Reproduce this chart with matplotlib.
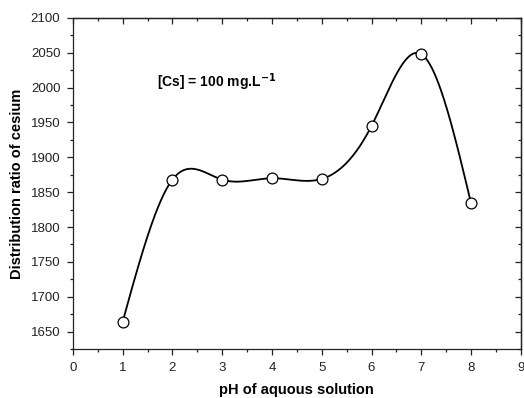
import numpy as np
import matplotlib
matplotlib.use('Agg')
import matplotlib.pyplot as plt
from matplotlib.ticker import MultipleLocator

ph = [1, 2, 3, 4, 5, 6, 7, 8]
ratio = [1664, 1868, 1868, 1870, 1869, 1945, 2048, 1834]


def natural_spline(x, y, n=400):
    # plain natural cubic spline, only for drawing the smooth line
    x = np.asarray(x, float)
    y = np.asarray(y, float)
    k = len(x)
    h = np.diff(x)
    A = np.zeros((k, k))
    b = np.zeros(k)
    A[0, 0] = A[-1, -1] = 1
    for i in range(1, k - 1):
        A[i, i - 1] = h[i - 1]
        A[i, i] = 2 * (h[i - 1] + h[i])
        A[i, i + 1] = h[i]
        b[i] = 3 * ((y[i + 1] - y[i]) / h[i] - (y[i] - y[i - 1]) / h[i - 1])
    c = np.linalg.solve(A, b)
    xs = np.linspace(x[0], x[-1], n)
    idx = np.clip(np.searchsorted(x, xs) - 1, 0, k - 2)
    dx = xs - x[idx]
    hh = h[idx]
    bb = (y[idx + 1] - y[idx]) / hh - hh * (2 * c[idx] + c[idx + 1]) / 3
    dd = (c[idx + 1] - c[idx]) / (3 * hh)
    ys = y[idx] + bb * dx + c[idx] * dx ** 2 + dd * dx ** 3
    return xs, ys


plt.rcParams['font.family'] = ['Liberation Sans', 'DejaVu Sans']

fig = plt.figure(figsize=(5.24, 3.98), dpi=100)
ax = fig.add_axes([0.139, 0.123, 0.855, 0.832])

xs, ys = natural_spline(ph, ratio)
ax.plot(xs, ys, color='black', lw=1.3, zorder=2)
ax.plot(ph, ratio, 'o', ms=7.8, mfc='white', mec='black', mew=0.9, zorder=3)

ax.set_xlim(0, 9)
ax.set_ylim(1625, 2100)
ax.xaxis.set_major_locator(MultipleLocator(1))
ax.xaxis.set_minor_locator(MultipleLocator(0.5))
ax.yaxis.set_major_locator(MultipleLocator(50))
ax.yaxis.set_minor_locator(MultipleLocator(25))
ax.tick_params(which='both', direction='out', labelsize=9.5, width=0.9, color='#222222',
               labelcolor='#222222')
ax.tick_params(which='major', length=4, pad=5)
ax.tick_params(which='minor', length=2.5)

for sp in ax.spines.values():
    sp.set_linewidth(0.9)
    sp.set_color('#222222')

top = ax.secondary_xaxis('top')
top.xaxis.set_major_locator(MultipleLocator(1))
top.xaxis.set_minor_locator(MultipleLocator(0.5))
top.tick_params(which='both', direction='in', labeltop=False, width=0.9, color='#222222')
top.tick_params(which='major', length=4)
top.tick_params(which='minor', length=2.5)
top.spines['top'].set_linewidth(0.9)

right = ax.secondary_yaxis('right')
right.yaxis.set_major_locator(MultipleLocator(50))
right.yaxis.set_minor_locator(MultipleLocator(25))
right.tick_params(which='both', direction='in', labelright=False, width=0.9, color='#222222')
right.tick_params(which='major', length=4)
right.tick_params(which='minor', length=2.5)
right.spines['right'].set_linewidth(0.9)

ax.set_xlabel('pH of aquous solution', fontsize=10.5, fontweight='bold', labelpad=6.5)
ax.set_ylabel('Distribution ratio of cesium', fontsize=10.5, fontweight='bold', labelpad=5)

ax.text(1.7, 2008, r'[Cs] = 100 mg.L$^{\mathbf{-1}}$', fontsize=10, fontweight='bold', va='center')

fig.savefig('out.png', dpi=100)
